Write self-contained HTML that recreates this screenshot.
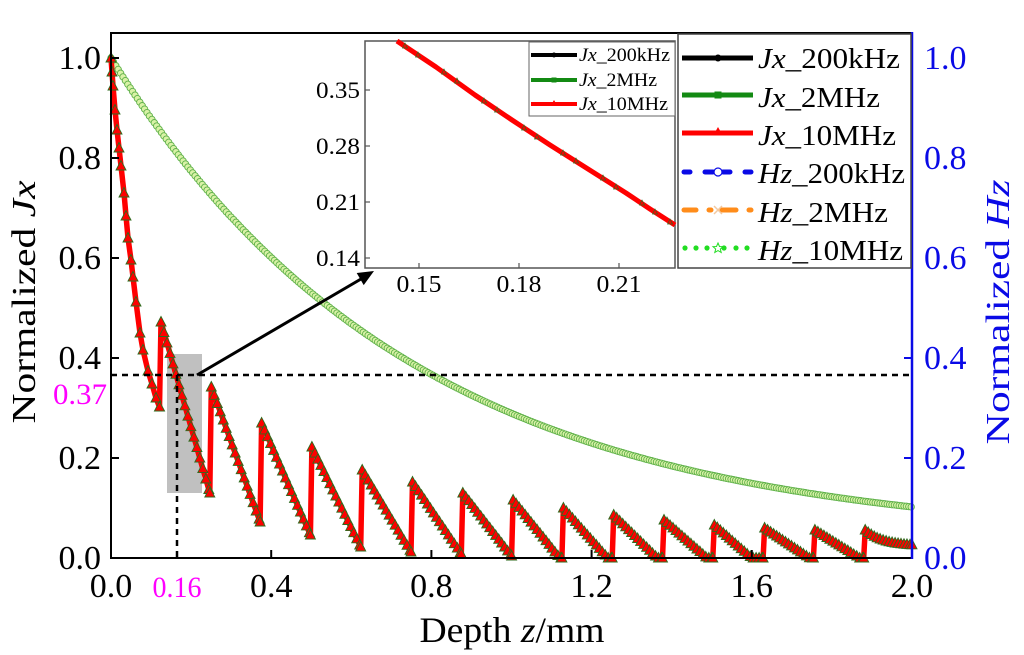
<!DOCTYPE html>
<html><head><meta charset="utf-8">
<style>
html,body{margin:0;padding:0;background:#fff;}
svg{display:block;}
text{font-family:"Liberation Serif","Times New Roman",serif;}
</style></head>
<body>
<svg id="s" width="1024" height="655" viewBox="0 0 1024 655" xmlns="http://www.w3.org/2000/svg">
<rect width="1024" height="655" fill="#fff"/>
<!-- gray highlight -->
<rect x="167" y="354" width="35" height="139" fill="#c0c0c0"/>
<g id="hz"></g>
<g id="jx"></g>
<!-- reference lines -->
<line x1="111" y1="375" x2="912" y2="375" stroke="#000" stroke-width="2.5" stroke-dasharray="6 5"/>
<line x1="177" y1="375" x2="177" y2="558" stroke="#000" stroke-width="2.5" stroke-dasharray="6 5"/>
<!-- arrow -->
<line x1="197" y1="375" x2="361" y2="279" stroke="#000" stroke-width="3"/>
<polygon points="374,271 363.7,285.1 356.7,273.0" fill="#000"/>

<!-- axes -->
<line x1="111" y1="33" x2="912" y2="33" stroke="#000" stroke-width="2"/>
<line x1="111" y1="32" x2="111" y2="559" stroke="#000" stroke-width="2"/>
<line x1="110" y1="558" x2="912" y2="558" stroke="#000" stroke-width="2"/>
<line x1="912" y1="32" x2="912" y2="559" stroke="#0a0ae6" stroke-width="2.5"/>
<g stroke="#000" stroke-width="2">
<line x1="111" y1="58" x2="119" y2="58"/>
<line x1="111" y1="158" x2="119" y2="158"/>
<line x1="111" y1="258" x2="119" y2="258"/>
<line x1="111" y1="358" x2="119" y2="358"/>
<line x1="111" y1="458" x2="119" y2="458"/>
<line x1="271.2" y1="558" x2="271.2" y2="550"/>
<line x1="431.4" y1="558" x2="431.4" y2="550"/>
<line x1="591.6" y1="558" x2="591.6" y2="550"/>
<line x1="751.8" y1="558" x2="751.8" y2="550"/>
</g>
<g stroke="#0a0ae6" stroke-width="2">
<line x1="904" y1="58" x2="912" y2="58"/>
<line x1="904" y1="158" x2="912" y2="158"/>
<line x1="904" y1="258" x2="912" y2="258"/>
<line x1="904" y1="358" x2="912" y2="358"/>
<line x1="904" y1="458" x2="912" y2="458"/>
</g>

<!-- left tick labels -->
<g font-size="34" fill="#000" text-anchor="end">
<text x="101" y="69">1.0</text>
<text x="101" y="169">0.8</text>
<text x="101" y="269">0.6</text>
<text x="101" y="369">0.4</text>
<text x="101" y="469">0.2</text>
<text x="101" y="569">0.0</text>
</g>
<text x="107" y="404" font-size="30" fill="#ff00ff" text-anchor="end" textLength="54" lengthAdjust="spacingAndGlyphs">0.37</text>
<!-- right tick labels -->
<g font-size="34" fill="#0a0ae6">
<text x="924" y="69">1.0</text>
<text x="924" y="169">0.8</text>
<text x="924" y="269">0.6</text>
<text x="924" y="369">0.4</text>
<text x="924" y="469">0.2</text>
<text x="924" y="569">0.0</text>
</g>
<!-- bottom tick labels -->
<g font-size="34" fill="#000" text-anchor="middle">
<text x="111" y="597">0.0</text>
<text x="271.2" y="597">0.4</text>
<text x="431.4" y="597">0.8</text>
<text x="591.6" y="597">1.2</text>
<text x="751.8" y="597">1.6</text>
<text x="912" y="597">2.0</text>
</g>
<text x="177" y="597" font-size="30" fill="#ff00ff" text-anchor="middle" textLength="49" lengthAdjust="spacingAndGlyphs">0.16</text>

<!-- axis titles -->
<text x="512" y="642" font-size="36" text-anchor="middle" textLength="185" lengthAdjust="spacingAndGlyphs">Depth <tspan font-style="italic">z</tspan>/mm</text>
<text transform="translate(35,302) rotate(-90)" font-size="34" text-anchor="middle" textLength="243" lengthAdjust="spacingAndGlyphs">Normalized <tspan font-style="italic">Jx</tspan></text>
<text transform="translate(1009,312) rotate(-90)" font-size="34" fill="#0a0ae6" text-anchor="middle" textLength="265" lengthAdjust="spacingAndGlyphs">Normalized <tspan font-style="italic">Hz</tspan></text>

<!-- inset -->
<rect x="365" y="41" width="310" height="227" fill="#fff" stroke="#555" stroke-width="1.5"/>
<g stroke="#555" stroke-width="1.2">
<line x1="365" y1="90" x2="370" y2="90"/>
<line x1="365" y1="146" x2="370" y2="146"/>
<line x1="365" y1="202" x2="370" y2="202"/>
<line x1="365" y1="258" x2="370" y2="258"/>
<line x1="419" y1="268" x2="419" y2="263"/>
<line x1="519" y1="268" x2="519" y2="263"/>
<line x1="619" y1="268" x2="619" y2="263"/>
</g>
<polyline points="397,41 436,67 475,95 512,120 550,145 588,169 626,193 650,209 675,225" fill="none" stroke="#ff0000" stroke-width="5" stroke-linejoin="round"/>
<g id="insmk"></g>
<g font-size="23" fill="#000" text-anchor="end">
<text x="360" y="98" textLength="44" lengthAdjust="spacingAndGlyphs">0.35</text>
<text x="360" y="154" textLength="44" lengthAdjust="spacingAndGlyphs">0.28</text>
<text x="360" y="210" textLength="44" lengthAdjust="spacingAndGlyphs">0.21</text>
<text x="360" y="266" textLength="44" lengthAdjust="spacingAndGlyphs">0.14</text>
</g>
<g font-size="24" fill="#000" text-anchor="middle">
<text x="419" y="292" textLength="45" lengthAdjust="spacingAndGlyphs">0.15</text>
<text x="519" y="292" textLength="45" lengthAdjust="spacingAndGlyphs">0.18</text>
<text x="619" y="292" textLength="45" lengthAdjust="spacingAndGlyphs">0.21</text>
</g>
<!-- inset legend -->
<rect x="529" y="42" width="146" height="74" fill="#fff" stroke="#666" stroke-width="1"/>
<line x1="531" y1="55" x2="577" y2="55" stroke="#000" stroke-width="4"/>
<circle cx="554" cy="55" r="2.5" fill="#000"/>
<line x1="531" y1="80" x2="577" y2="80" stroke="#138a13" stroke-width="4"/>
<rect x="551.5" y="77.5" width="5" height="5" fill="#138a13"/>
<line x1="531" y1="104" x2="577" y2="104" stroke="#ff0000" stroke-width="4"/>
<polygon points="554,100 557.5,106 550.5,106" fill="#ff0000"/>
<g font-size="19" fill="#000">
<text x="579" y="61" textLength="91" lengthAdjust="spacingAndGlyphs"><tspan font-style="italic">Jx</tspan>_200kHz</text>
<text x="579" y="86" textLength="78" lengthAdjust="spacingAndGlyphs"><tspan font-style="italic">Jx</tspan>_2MHz</text>
<text x="579" y="110" textLength="89" lengthAdjust="spacingAndGlyphs"><tspan font-style="italic">Jx</tspan>_10MHz</text>
</g>

<!-- main legend -->
<rect x="678" y="34" width="233" height="234" fill="#fff" stroke="#444" stroke-width="1.5"/>
<line x1="682" y1="58" x2="753" y2="58" stroke="#000" stroke-width="5"/>
<circle cx="718" cy="58" r="3.5" fill="#000"/>
<line x1="682" y1="95" x2="753" y2="95" stroke="#138a13" stroke-width="5"/>
<rect x="714.5" y="91.5" width="7" height="7" fill="#138a13"/>
<line x1="682" y1="133" x2="753" y2="133" stroke="#ff0000" stroke-width="5"/>
<polygon points="718,127 722.5,135 713.5,135" fill="#ff0000"/>
<g stroke="#0a0ae6" stroke-width="5" stroke-linecap="round">
<line x1="684" y1="172" x2="690" y2="172"/>
<line x1="705" y1="172" x2="713" y2="172"/>
<line x1="723" y1="172" x2="730" y2="172"/>
<line x1="745" y1="172" x2="751" y2="172"/>
</g>
<circle cx="718" cy="172" r="4" fill="#fff" stroke="#0a0ae6" stroke-width="1.2"/>
<g stroke="#ff8c1a" stroke-width="5" stroke-linecap="round">
<line x1="684" y1="210" x2="696" y2="210"/>
<line x1="709" y1="210" x2="711" y2="210"/>
<line x1="722" y1="210" x2="736" y2="210"/>
<line x1="749" y1="210" x2="751" y2="210"/>
</g>
<g stroke="#f3c9a0" stroke-width="1.5"><line x1="714" y1="206" x2="722" y2="214"/><line x1="722" y1="206" x2="714" y2="214"/></g>
<g fill="#22dd22">
<circle cx="685" cy="248" r="2.6"/><circle cx="696" cy="248" r="2.6"/><circle cx="707" cy="248" r="2.6"/>
<circle cx="724" cy="248" r="2.6"/><circle cx="736" cy="248" r="2.6"/><circle cx="747" cy="248" r="2.6"/>
</g>
<polygon points="718,243 719.5,246.5 723,246.7 720.3,249 721.2,252.5 718,250.6 714.8,252.5 715.7,249 713,246.7 716.5,246.5" fill="none" stroke="#22dd22" stroke-width="1"/>
<g font-size="29" fill="#000">
<text x="758" y="68" textLength="142" lengthAdjust="spacingAndGlyphs"><tspan font-style="italic">Jx</tspan>_200kHz</text>
<text x="758" y="107" textLength="122" lengthAdjust="spacingAndGlyphs"><tspan font-style="italic">Jx</tspan>_2MHz</text>
<text x="758" y="145" textLength="138" lengthAdjust="spacingAndGlyphs"><tspan font-style="italic">Jx</tspan>_10MHz</text>
<text x="758" y="183" textLength="147" lengthAdjust="spacingAndGlyphs"><tspan font-style="italic">Hz</tspan>_200kHz</text>
<text x="758" y="222" textLength="130" lengthAdjust="spacingAndGlyphs"><tspan font-style="italic">Hz</tspan>_2MHz</text>
<text x="758" y="260" textLength="145" lengthAdjust="spacingAndGlyphs"><tspan font-style="italic">Hz</tspan>_10MHz</text>
</g>
</svg>
<script>
(function(){
const NS="http://www.w3.org/2000/svg";
function X(z){return 111+z*400.5;}
function Y(v){return 558-v*500;}
function el(tag,attrs,parent){const e=document.createElementNS(NS,tag);for(const k in attrs)e.setAttribute(k,attrs[k]);parent.appendChild(e);return e;}
function f(n){return (+n).toFixed(1);}
// Hz curve
const hz=document.getElementById('hz');
const hp=[];
for(let i=0;i<=333;i++){const z=Math.min(i*0.006,2.0);const v=0.035+0.965*Math.exp(-z/0.75);hp.push([X(z),Y(v)]);}
el('polyline',{points:hp.map(p=>f(p[0])+','+f(p[1])).join(' '),fill:'none',stroke:'#a6d878','stroke-width':4},hz);
hp.forEach(p=>{el('circle',{cx:f(p[0]),cy:f(p[1]),r:3.2,fill:'#d9f2a6',stroke:'#5fb14a','stroke-width':0.9},hz);});
// Jx curve
const jx=document.getElementById('jx');
const segs=[];
segs.push([[111,58],[112,72],[113,86],[115,110],[117,130],[119,148],[121,166],[124,193],[126,216],[128,238],[131,260],[133,277],[136,302],[140,333],[143,350],[148,371],[152,384],[156,398],[159.5,407]]);
const P=[.472,.342,.27,.222,.176,.152,.13,.116,.10,.086,.076,.066,.06,.056,.056];
const B=[.13,.072,.046,.022,.012,.008,.004,-.005,-.01,-.01,-.01,-.02,-.005,-.005];
for(let k=0;k<15;k++){
  const x0=161+50.3*k; const x1=k<14?161+50.3*(k+1)-1.5:912;
  const pts=[]; const n=Math.ceil(x1-x0);
  for(let i=0;i<=n;i++){
    const x=x0+(x1-x0)*i/n; let v;
    if(k<14) v=P[k]+(B[k]-P[k])*(x-x0)/(x1-x0);
    else v=0.024+0.032*Math.exp(-(x-x0)/18);
    v=Math.max(v,0); pts.push([x,Y(v)]);
  }
  segs.push(pts);
}
let d='';
segs.forEach((s,si)=>{s.forEach((p,i)=>{d+=(si===0&&i===0?'M':'L')+f(p[0])+','+f(p[1]);});});
el('path',{d:d,fill:'none',stroke:'#ff0000','stroke-width':5.5,'stroke-linejoin':'round'},jx);
const mk=[];
segs.forEach(s=>{
  mk.push(s[0]); let ax=0, al=0;
  for(let i=1;i<s.length;i++){
    const dx=s[i][0]-s[i-1][0], dy=s[i][1]-s[i-1][1];
    ax+=dx; al+=Math.sqrt(dx*dx+dy*dy);
    if(ax>=2.4||al>=11){mk.push(s[i]);ax=0;al=0;}
  }
  mk.push(s[s.length-1]);
});
mk.forEach(p=>{
  const x=p[0],y=p[1];
  el('path',{d:'M'+f(x)+','+f(y-5.5)+'L'+f(x+5)+','+f(y+4)+'L'+f(x-5)+','+f(y+4)+'Z',fill:'#ff0000',stroke:'#2e6b1e','stroke-width':0.9},jx);
});
// inset markers
const im=document.getElementById('insmk');
[[405,46],[418,55],[444,72],[457,81],[484,101],[497,110],[524,128],[537,137],[563,153],[576,161],[603,178],[616,187],[642,203],[655,212],[670,222]].forEach(p=>{
  el('path',{d:'M'+p[0]+','+(p[1]-3)+'L'+(p[0]+2.5)+','+(p[1]+2)+'L'+(p[0]-2.5)+','+(p[1]+2)+'Z',fill:'#ff0000',stroke:'#2e6b1e','stroke-width':0.7},im);
});
})();
</script>
</body></html>
